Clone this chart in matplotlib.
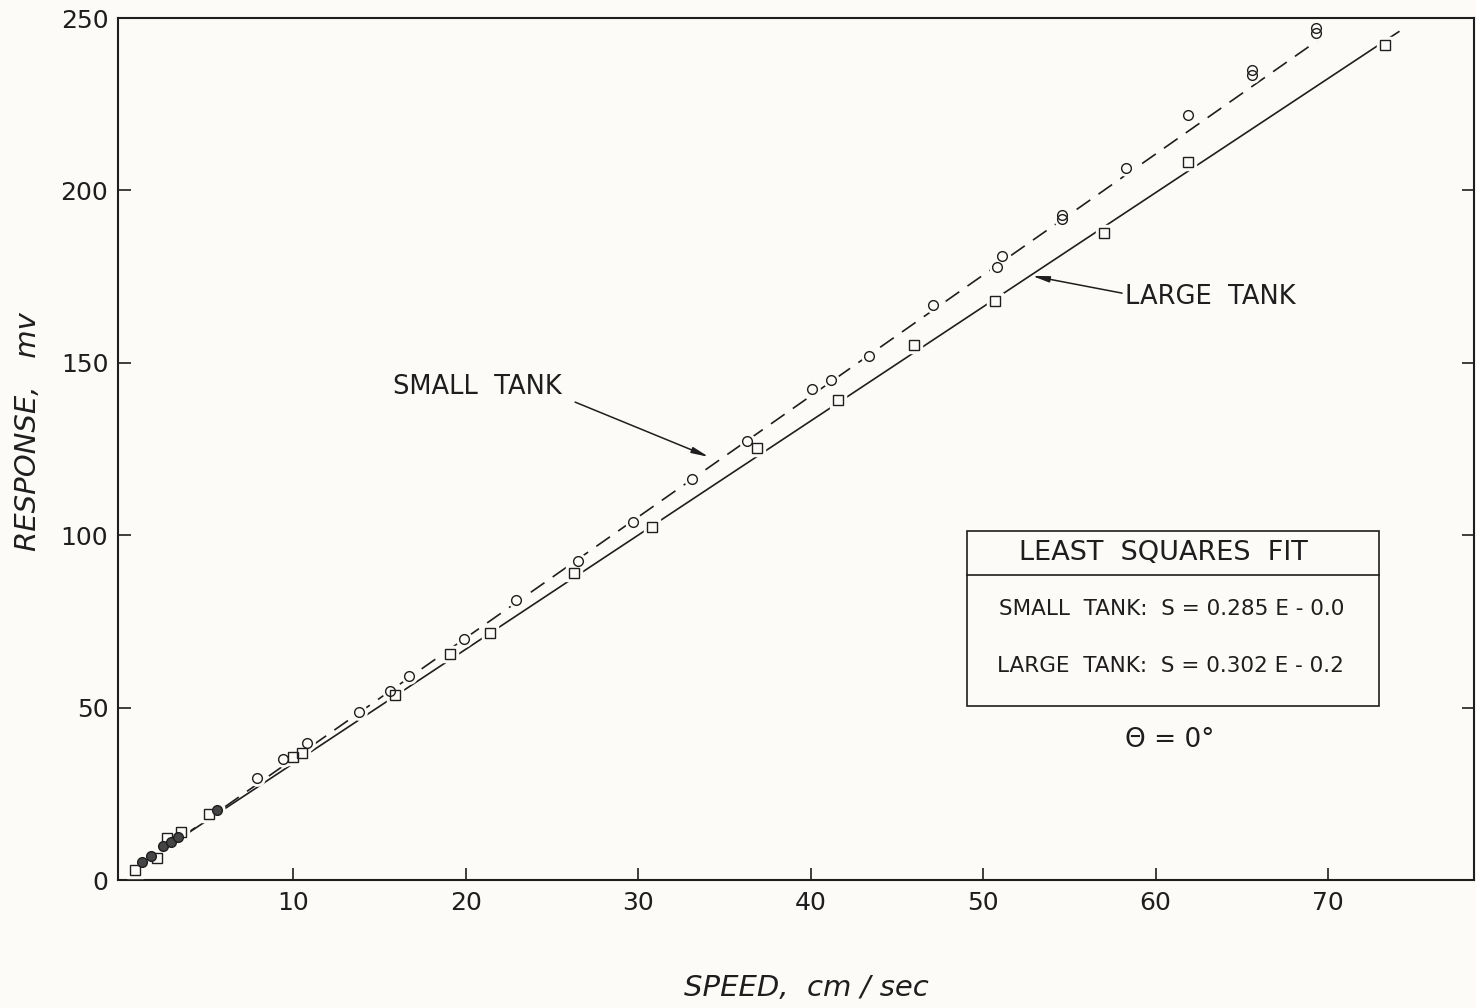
import numpy as np
import matplotlib
matplotlib.use("Agg")
import matplotlib.pyplot as plt
from matplotlib.patches import Rectangle

# measured points, small tank (open circles)
small_speed = [7.9, 9.4, 10.8, 13.8, 15.6, 16.7, 19.9, 22.9, 26.5, 29.7, 33.1, 36.3,
               40.1, 41.2, 43.4, 47.1, 50.8, 51.1, 54.6, 54.6, 58.3, 61.9, 65.6, 65.6,
               69.3, 69.3]
small_resp = [29.7, 35.1, 39.7, 48.8, 54.9, 59.2, 69.9, 81.3, 92.4, 103.7, 116.3, 127.3,
              142.3, 145.0, 152.0, 166.8, 177.8, 180.9, 193.0, 191.8, 206.4, 221.9, 235.0,
              233.6, 247.0, 245.7]

# measured points, large tank (open squares)
large_speed = [0.84, 2.1, 2.7, 3.5, 5.1, 10.0, 10.5, 15.9, 19.1, 21.4, 26.3, 30.8,
               36.9, 41.6, 46.0, 50.7, 57.0, 61.9, 73.3]
large_resp = [2.9, 6.5, 12.2, 14.0, 19.1, 35.6, 36.7, 53.7, 65.5, 71.5, 89.0, 102.4,
              125.4, 139.3, 155.2, 168.0, 187.6, 208.1, 242.2]

# low-speed points (filled circles)
low_speed = [1.26, 1.77, 2.45, 2.93, 3.3, 5.6]
low_resp = [5.3, 7.0, 9.9, 11.1, 12.6, 20.3]

# least squares fits, S = a*E + b
small_fit = (0.285, -0.0)
large_fit = (0.302, -0.2)
small_range = (1.0, 69.6)
large_range = (0.5, 74.1)

INK = "#1e1e1e"
PAPER = "#fcfbf8"

plt.rcParams['font.family'] = ['DejaVu Sans']

fig = plt.figure(figsize=(14.76, 10.08), dpi=100, facecolor=PAPER)
ax = fig.add_axes([118 / 1476, 1 - 880 / 1008, (1474 - 118) / 1476, (880 - 18) / 1008])
ax.set_facecolor(PAPER)


def fit_line(fit, rng):
    a, b = fit
    s = np.array(rng)
    return s, (s - b) / a


s, e = fit_line(large_fit, large_range)
ax.plot(s, e, color=INK, lw=1.2, zorder=2)
s, e = fit_line(small_fit, small_range)
ax.plot(s, e, color=INK, lw=1.2, dashes=(10, 6), zorder=2)

# white halo under each marker so the lines break around the points
for xs, ys, m in [(small_speed, small_resp, 'o'), (large_speed, large_resp, 's'),
                  (low_speed, low_resp, 'o')]:
    ax.plot(xs, ys, m, ms=11, mfc=PAPER, mec=PAPER, ls='none', zorder=3)

ax.plot(small_speed, small_resp, 'o', ms=7, mfc='none', mec=INK, mew=1.0, ls='none', zorder=4)
ax.plot(large_speed, large_resp, 's', ms=6.5, mfc='none', mec=INK, mew=1.0, ls='none', zorder=4)
ax.plot(low_speed, low_resp, 'o', ms=7, mfc='#454545', mec=INK, mew=1.0, ls='none', zorder=5)

ax.set_xlim(-0.15, 78.46)
ax.set_ylim(0, 250)
ax.set_xticks([10, 20, 30, 40, 50, 60, 70])
ax.set_yticks([0, 50, 100, 150, 200, 250])
ax.tick_params(direction='in', length=9, width=1.2, colors=INK, labelsize=18,
               right=True)
ax.tick_params(axis='y', pad=7)
ax.tick_params(axis='x', pad=8)
for sp in ax.spines.values():
    sp.set_linewidth(1.5)
    sp.set_color(INK)

fig.text(28 / 1476, 1 - 432 / 1008, "RESPONSE,   mv", rotation=90, ha='center', va='center',
         fontsize=21, style='italic', color=INK)
fig.text(806 / 1476, 1 - 988 / 1008, "SPEED,  cm / sec", ha='center', va='center',
         fontsize=21, style='italic', color=INK)

arrow = dict(arrowstyle='-|>,head_length=1.0,head_width=0.18', lw=1.1, color=INK,
             shrinkA=0, shrinkB=0)
ax.annotate("", xy=(34.1, 122.7), xytext=(26.35, 138.6), arrowprops=arrow)
ax.text(20.7, 143.0, "SMALL  TANK", ha='center', va='center', fontsize=18.5, color=INK)
ax.annotate("", xy=(52.84, 175.2), xytext=(58.06, 170.2), arrowprops=arrow)
ax.text(58.2, 169.1, "LARGE  TANK", ha='left', va='center', fontsize=18.5, color=INK)

# fit summary box
ax.add_patch(Rectangle((49.07, 50.5), 72.95 - 49.07, 101.2 - 50.5, fill=False,
                       ec=INK, lw=1.2, zorder=3))
ax.plot([49.07, 72.95], [88.5, 88.5], color=INK, lw=1.2, zorder=3)
ax.text(60.44, 94.8, "LEAST  SQUARES  FIT", ha='center', va='center', fontsize=19.5, color=INK)
ax.text(60.96, 78.6, "SMALL  TANK:  S = %.3f E - %.1f" % (small_fit[0], abs(small_fit[1])),
        ha='center', va='center', fontsize=15.5, color=INK)
ax.text(60.84, 62.1, "LARGE  TANK:  S = %.3f E - %.1f" % (large_fit[0], abs(large_fit[1])),
        ha='center', va='center', fontsize=15.5, color=INK)
ax.text(60.84, 40.6, "Θ = 0°", ha='center', va='center', fontsize=19, color=INK)

fig.savefig("out.png", dpi=100, facecolor=PAPER)
